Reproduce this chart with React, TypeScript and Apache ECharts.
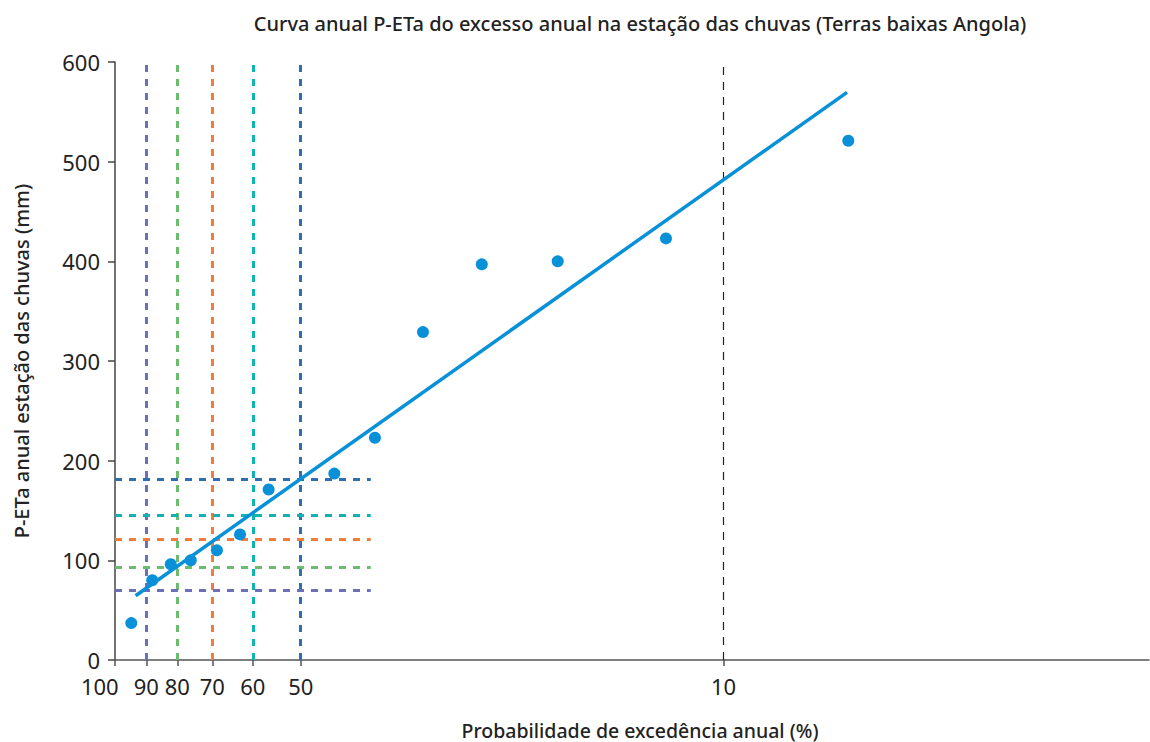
import React, { useEffect, useRef } from "react";
import * as echarts from "echarts";

const TITLE = "Curva anual P-ETa do excesso anual na estação das chuvas (Terras baixas Angola)";
const X_NAME = "Probabilidade de excedência anual (%)";
const Y_NAME = "P-ETa anual estação das chuvas (mm)";

// exceedance probability (%) of the observed points
const obsProb = [95.3, 88, 82, 76, 68.8, 63, 56.5, 44, 37.7, 31.4, 25.1, 18.8, 12.45, 6.22];
// P-ETa (mm)
const obsValue = [37, 80, 96, 100, 110, 126, 171, 187, 223, 329, 397, 400, 423, 521];

// fitted line end points
const fitProb = [93.75, 6.25];
const fitValue = [64.5, 569.5];

// reference probabilities and their fitted values
const refProb = [90, 80, 70, 60, 50];
const refValue = [70, 93, 121, 145, 181];
const refColors = ["#6b70b9", "#6cbb6f", "#f27c3e", "#11b2b5", "#2f6fb0"];
const refLineEnd = 38.3;

// x axis (log, reversed) extent
const X_MIN = 1.98;
const X_MAX = 101.4;
const xLabelValues = [100, 90, 80, 70, 60, 50, 10];
const xTickValues = [X_MAX, 90, 80, 70, 60, 50, 10];
const yTicks = [0, 100, 200, 300, 400, 500, 600];

const FONT = "'Noto Sans', sans-serif";
const BLUE = "#0891d8";

export default function App() {
  const ref = useRef<HTMLDivElement>(null);
  useEffect(() => {
    const chart = echarts.init(ref.current!, null, { renderer: "svg" });
    const markData: any[] = [];
    refProb.forEach((p, i) => {
      markData.push({
        xAxis: p,
        lineStyle: { color: refColors[i], width: 3, type: [7, 7] },
      });
    });
    refValue.forEach((v, i) => {
      markData.push([
        { coord: [X_MAX, v], lineStyle: { color: refColors[i], width: 3, type: [7, 7] } },
        { coord: [refLineEnd, v] },
      ]);
    });
    markData.push({
      xAxis: 10,
      lineStyle: { color: "#222", width: 1.2, type: [8, 7] },
    });

    chart.setOption({
      animation: false,
      textStyle: { fontFamily: FONT },
      title: [
        {
          text: TITLE,
          left: 640,
          top: 12,
          padding: 0,
          textAlign: "center",
          textStyle: {
            fontSize: 20,
            lineHeight: 22,
            fontWeight: 500,
            color: "#222",
            fontFamily: FONT,
          },
        },
        {
          text: X_NAME,
          left: 640,
          top: 720,
          padding: 0,
          textAlign: "center",
          textStyle: {
            fontSize: 19.5,
            lineHeight: 20,
            fontWeight: 500,
            color: "#222",
            fontFamily: FONT,
          },
        },
      ],
      grid: { left: 115, right: 1, top: 62, bottom: 82, containLabel: false },
      xAxis: {
        type: "log",
        logBase: 10,
        min: X_MIN,
        max: X_MAX,
        inverse: true,
        axisLine: { show: true, lineStyle: { color: "#555", width: 1.5 } },
        axisTick: {
          show: true,
          customValues: xTickValues,
          length: 6,
          lineStyle: { color: "#555", width: 1.5 },
        },
        axisLabel: {
          customValues: xLabelValues,
          fontSize: 22,
          lineHeight: 22,
          color: "#222",
          margin: 15,
          fontFamily: FONT,
          alignMinLabel: "right",
          formatter: (v: number) => String(Math.round(v)),
        },
        splitLine: { show: false },
        minorTick: { show: false },
      },
      yAxis: {
        type: "value",
        min: 0,
        max: 600,
        interval: 100,
        name: Y_NAME,
        nameLocation: "middle",
        nameGap: 84,
        nameTextStyle: { fontSize: 20, fontWeight: 500, color: "#222", fontFamily: FONT },
        axisLine: { show: true, lineStyle: { color: "#444", width: 1.5 } },
        axisTick: { show: true, length: 7, lineStyle: { color: "#444", width: 1.5 } },
        axisLabel: {
          fontSize: 22,
          lineHeight: 20,
          color: "#222",
          margin: 15,
          fontFamily: FONT,
          customValues: yTicks,
        },
        splitLine: { show: false },
      },
      series: [
        {
          type: "line",
          name: "Ajuste",
          data: fitProb.map((p, i) => [p, fitValue[i]]),
          symbol: "none",
          lineStyle: { color: BLUE, width: 3.5 },
          z: 3,
          markLine: {
            silent: true,
            symbol: ["none", "none"],
            label: { show: false },
            data: markData,
            z: 2,
          },
        },
        {
          type: "scatter",
          name: "Observado",
          data: obsProb.map((p, i) => [p, obsValue[i]]),
          symbolSize: 12,
          itemStyle: { color: BLUE, opacity: 1 },
          z: 4,
        },
      ],
    });
    return () => chart.dispose();
  }, []);
  return (
    <div
      ref={ref}
      style={{ position: "absolute", left: 0, top: 0, width: 1150, height: 742 }}
    />
  );
}
